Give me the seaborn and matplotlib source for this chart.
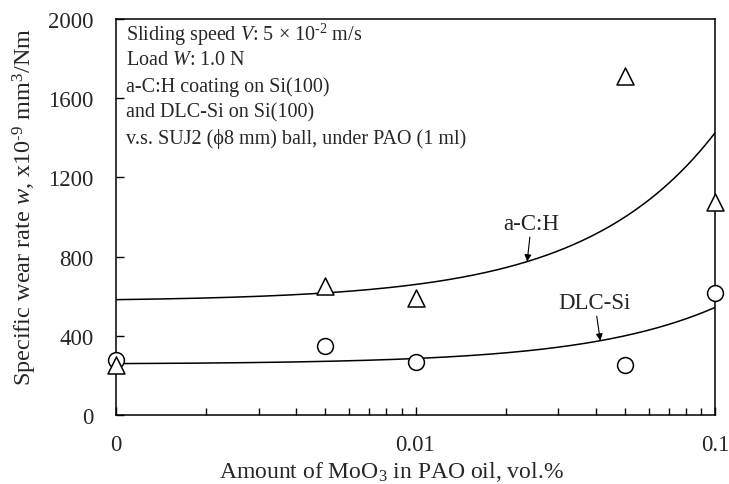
import numpy as np
import pandas as pd
import matplotlib
matplotlib.use("Agg")
import matplotlib.pyplot as plt
import seaborn as sns

# ── Data ──────────────────────────────────────────────────────────────────────
# MoO3 content, vol.% ; 0 is drawn at the left edge of the log axis (0.001)
moo3_vol    = [0, 0.005, 0.01, 0.05, 0.1]
wear_ach    = [252, 652, 589, 1713, 1077]   # a-C:H  (triangles)
wear_dlcsi  = [278, 346, 268, 252, 615]     # DLC-Si (circles)

X_ZERO      = 1e-3
X_TICKS     = [1e-3, 1e-2, 1e-1]
X_TICKLBL   = ["0", "0.01", "0.1"]
Y_TICKS     = [0, 400, 800, 1200, 1600, 2000]

INFO_LINES = [
    "Sliding speed $V$: 5 \u00d7 10$^{\\text{-2}}$ m/s",
    "Load $W$: 1.0 N",
    "a-C:H coating on Si(100)",
    "and DLC-Si on Si(100)",
    "v.s. SUJ2 (\u03d58 mm) ball, under PAO (1 ml)",
]

FS = 16.5
FS_LABEL = 17

sns.set_style("ticks")
plt.rcParams["font.family"] = ["Liberation Serif", "DejaVu Serif"]
plt.rcParams["mathtext.fontset"] = "custom"
plt.rcParams["mathtext.rm"] = "Liberation Serif"
plt.rcParams["mathtext.it"] = "Liberation Serif:italic"

x_plot = np.where(np.array(moo3_vol) == 0, X_ZERO, moo3_vol)
df = pd.DataFrame({"x": x_plot, "ach": wear_ach, "dlc": wear_dlcsi})

# linear trend lines (look curved on the log axis)
xs = np.logspace(-3, -1, 300)
c_ach = np.polyfit(df["x"], df["ach"], 1)
c_dlc = np.polyfit(df["x"], df["dlc"], 1)
fit = pd.DataFrame({"x": xs, "ach": np.polyval(c_ach, xs), "dlc": np.polyval(c_dlc, xs)})

fig, ax = plt.subplots(figsize=(7.29, 4.85), dpi=100)
fig.subplots_adjust(left=116/729, right=715/729, top=1-20/485, bottom=1-416/485)

sns.lineplot(data=fit, x="x", y="ach", color="black", lw=1.1, ax=ax, zorder=2)
sns.lineplot(data=fit, x="x", y="dlc", color="black", lw=1.1, ax=ax, zorder=2)
sns.scatterplot(data=df, x="x", y="dlc", marker="o", s=130, facecolor="white",
                edgecolor="black", linewidth=1.1, ax=ax, zorder=3, clip_on=False)
sns.scatterplot(data=df, x="x", y="ach", marker="^", s=150, facecolor="white",
                edgecolor="black", linewidth=1.1, ax=ax, zorder=4, clip_on=False)

ax.set_xscale("log")
ax.set_xlim(1e-3, 1e-1)
ax.set_ylim(0, 2000)
ax.set_xticks(X_TICKS)
ax.set_xticklabels(X_TICKLBL)
ax.set_yticks(Y_TICKS)
ax.tick_params(axis="both", which="both", direction="in", labelsize=FS,
               width=1.0, color="black")
ax.tick_params(axis="x", which="major", length=6, pad=13.5)
ax.tick_params(axis="x", which="minor", length=5)
ax.tick_params(axis="y", which="major", length=6, pad=16)
for s in ax.spines.values():
    s.set_linewidth(1.1)
    s.set_color("black")

ax.set_xlabel("Amount of MoO$_3$ in PAO oil, vol.%", fontsize=FS_LABEL)
ax.set_ylabel("Specific wear rate $w$, x10$^{\\text{-9}}$ mm$^3$/Nm",
              fontsize=17.5)
ax.xaxis.set_label_coords(0.46, -0.141)
ax.xaxis.label.set_va("center")
ax.yaxis.set_label_coords(-0.152, 0.527)
ax.yaxis.label.set_va("center")

for i, line in enumerate(INFO_LINES):
    ax.text(0.017, 0.963 - i * 0.0657, line, transform=ax.transAxes,
            fontsize=14.5, ha="left", va="center")

arrow = dict(arrowstyle="-|>", color="black", lw=0.8, mutation_scale=10,
             shrinkA=0, shrinkB=0)
xa = 0.0236
ax.annotate("a-C:H", xy=(xa, np.polyval(c_ach, xa)), xytext=(3, 20),
            textcoords="offset points", ha="center", va="bottom",
            fontsize=FS, arrowprops=arrow)
xd = 0.0414
ax.annotate("DLC-Si", xy=(xd, np.polyval(c_dlc, xd)), xytext=(-4, 20),
            textcoords="offset points", ha="center", va="bottom",
            fontsize=FS, arrowprops=arrow)

plt.savefig("out.png", dpi=100)
